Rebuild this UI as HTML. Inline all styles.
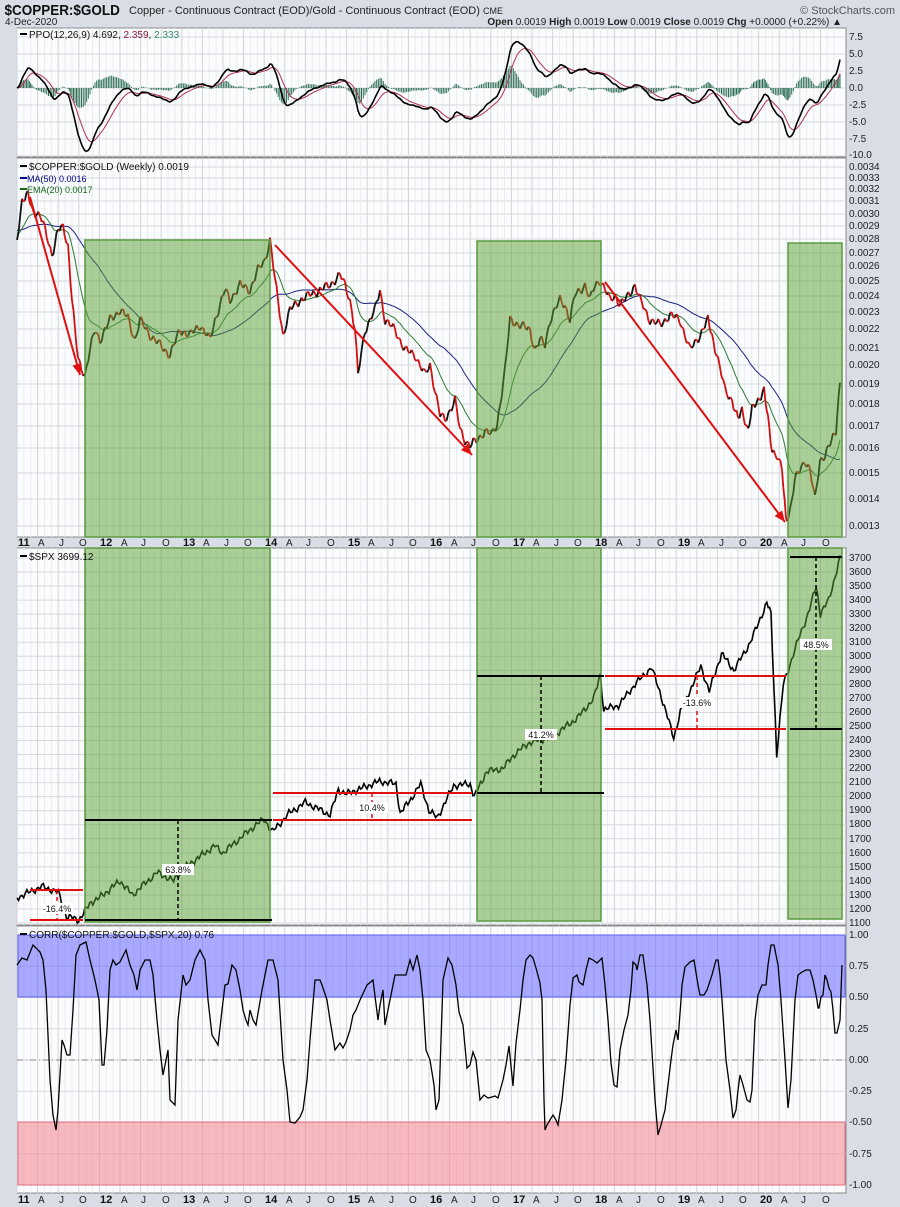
<!DOCTYPE html>
<html><head><meta charset="utf-8"><style>
html,body{margin:0;padding:0;background:#d9dee6;}
svg{display:block;font-family:"Liberation Sans",sans-serif;}
.ax{font-size:10px;fill:#222;}
.dt{font-size:10px;fill:#222;}
.yr{font-size:11px;font-weight:bold;fill:#111;}
</style></head><body>
<svg id="s" width="900" height="1207" viewBox="0 0 900 1207" xmlns="http://www.w3.org/2000/svg">
<rect x="0" y="0" width="900" height="1207" fill="#d9dee6"/>
<text x="5" y="15" style="font-size:15px;font-weight:bold" fill="#111" transform="scale(0.9,1)">$COPPER:$GOLD</text>
<text x="129" y="14" style="font-size:11px" fill="#222">Copper - Continuous Contract (EOD)/Gold - Continuous Contract (EOD) <tspan font-size="9">CME</tspan></text>
<text x="895" y="14" text-anchor="end" style="font-size:11px" fill="#555">© StockCharts.com</text>
<text x="5" y="25" style="font-size:10px" fill="#222">4-Dec-2020</text>
<text x="842" y="25" text-anchor="end" style="font-size:10px" fill="#222"><tspan font-weight="bold">Open</tspan> 0.0019 <tspan font-weight="bold">High</tspan> 0.0019 <tspan font-weight="bold">Low</tspan> 0.0019 <tspan font-weight="bold">Close</tspan> 0.0019 <tspan font-weight="bold">Chg</tspan> +0.0000 (+0.22%) ▲</text>

<rect x="17" y="28" width="829" height="129" fill="#fbfcfe" stroke="#888"/>
<rect x="17" y="158" width="829" height="379" fill="#fbfcfe" stroke="#888"/>
<rect x="17" y="548" width="829" height="377" fill="#fbfcfe" stroke="#888"/>
<rect x="17" y="926" width="829" height="267" fill="#fbfcfe" stroke="#888"/>
<g id="grid"></g>
<g id="series"></g>

<g class="ax">
<text x="849" y="40">7.5</text><text x="849" y="57">5.0</text><text x="849" y="74">2.5</text><text x="849" y="91">0.0</text><text x="849" y="108">-2.5</text><text x="849" y="125">-5.0</text><text x="849" y="142">-7.5</text><text x="849" y="158">-10.0</text>
<text x="849" y="170">0.0034</text><text x="849" y="181">0.0033</text><text x="849" y="192">0.0032</text><text x="849" y="204">0.0031</text><text x="849" y="217">0.0030</text><text x="849" y="229">0.0029</text><text x="849" y="242">0.0028</text><text x="849" y="256">0.0027</text><text x="849" y="269">0.0026</text><text x="849" y="284">0.0025</text><text x="849" y="299">0.0024</text><text x="849" y="315">0.0023</text><text x="849" y="332">0.0022</text><text x="849" y="351">0.0021</text><text x="849" y="368">0.0020</text><text x="849" y="387">0.0019</text><text x="849" y="407">0.0018</text><text x="849" y="429">0.0017</text><text x="849" y="451">0.0016</text><text x="849" y="476">0.0015</text><text x="849" y="502">0.0014</text><text x="849" y="529">0.0013</text>
<text x="849" y="561">3700</text><text x="849" y="575">3600</text><text x="849" y="589">3500</text><text x="849" y="603">3400</text><text x="849" y="617">3300</text><text x="849" y="631">3200</text><text x="849" y="645">3100</text><text x="849" y="659">3000</text><text x="849" y="673">2900</text><text x="849" y="687">2800</text><text x="849" y="701">2700</text><text x="849" y="715">2600</text><text x="849" y="729">2500</text><text x="849" y="743">2400</text><text x="849" y="757">2300</text><text x="849" y="771">2200</text><text x="849" y="785">2100</text><text x="849" y="799">2000</text><text x="849" y="813">1900</text><text x="849" y="827">1800</text><text x="849" y="842">1700</text><text x="849" y="856">1600</text><text x="849" y="870">1500</text><text x="849" y="884">1400</text><text x="849" y="898">1300</text><text x="849" y="912">1200</text><text x="849" y="926">1100</text>
<text x="849" y="938">1.00</text><text x="849" y="969">0.75</text><text x="849" y="1000">0.50</text><text x="849" y="1032">0.25</text><text x="849" y="1063">0.00</text><text x="849" y="1094">-0.25</text><text x="849" y="1125">-0.50</text><text x="849" y="1157">-0.75</text><text x="849" y="1188">-1.00</text>
</g>

<g class="dt">
<text class="yr" x="18" y="546">11</text><text x="38" y="546">A</text><text x="59" y="546">J</text><text x="79" y="546">O</text>
<text class="yr" x="100" y="546">12</text><text x="121" y="546">A</text><text x="141" y="546">J</text><text x="162" y="546">O</text>
<text class="yr" x="183" y="546">13</text><text x="203" y="546">A</text><text x="224" y="546">J</text><text x="244" y="546">O</text>
<text class="yr" x="265" y="546">14</text><text x="286" y="546">A</text><text x="306" y="546">J</text><text x="327" y="546">O</text>
<text class="yr" x="348" y="546">15</text><text x="368" y="546">A</text><text x="389" y="546">J</text><text x="409" y="546">O</text>
<text class="yr" x="430" y="546">16</text><text x="451" y="546">A</text><text x="471" y="546">J</text><text x="492" y="546">O</text>
<text class="yr" x="513" y="546">17</text><text x="533" y="546">A</text><text x="554" y="546">J</text><text x="574" y="546">O</text>
<text class="yr" x="595" y="546">18</text><text x="616" y="546">A</text><text x="636" y="546">J</text><text x="657" y="546">O</text>
<text class="yr" x="678" y="546">19</text><text x="698" y="546">A</text><text x="719" y="546">J</text><text x="739" y="546">O</text>
<text class="yr" x="760" y="546">20</text><text x="781" y="546">A</text><text x="801" y="546">J</text><text x="822" y="546">O</text>
</g>
<g class="dt" transform="translate(0,657)">
<text class="yr" x="18" y="546">11</text><text x="38" y="546">A</text><text x="59" y="546">J</text><text x="79" y="546">O</text>
<text class="yr" x="100" y="546">12</text><text x="121" y="546">A</text><text x="141" y="546">J</text><text x="162" y="546">O</text>
<text class="yr" x="183" y="546">13</text><text x="203" y="546">A</text><text x="224" y="546">J</text><text x="244" y="546">O</text>
<text class="yr" x="265" y="546">14</text><text x="286" y="546">A</text><text x="306" y="546">J</text><text x="327" y="546">O</text>
<text class="yr" x="348" y="546">15</text><text x="368" y="546">A</text><text x="389" y="546">J</text><text x="409" y="546">O</text>
<text class="yr" x="430" y="546">16</text><text x="451" y="546">A</text><text x="471" y="546">J</text><text x="492" y="546">O</text>
<text class="yr" x="513" y="546">17</text><text x="533" y="546">A</text><text x="554" y="546">J</text><text x="574" y="546">O</text>
<text class="yr" x="595" y="546">18</text><text x="616" y="546">A</text><text x="636" y="546">J</text><text x="657" y="546">O</text>
<text class="yr" x="678" y="546">19</text><text x="698" y="546">A</text><text x="719" y="546">J</text><text x="739" y="546">O</text>
<text class="yr" x="760" y="546">20</text><text x="781" y="546">A</text><text x="801" y="546">J</text><text x="822" y="546">O</text>
</g>

<g id="over"></g>

<g style="font-size:10px">
<rect x="20" y="33" width="7" height="2" fill="#000"/>
<text x="29" y="38" fill="#111">PPO(12,26,9) 4.692, <tspan fill="#8b1a3a">2.359</tspan>, <tspan fill="#3a8a6a">2.333</tspan></text>
<rect x="20" y="165" width="7" height="2" fill="#000"/>
<text x="29" y="170" fill="#111">$COPPER:$GOLD (Weekly) 0.0019</text>
<rect x="20" y="177" width="7" height="2" fill="#000080"/>
<text x="27" y="182" fill="#000080" font-size="9">MA(50) 0.0016</text>
<rect x="20" y="188" width="7" height="2" fill="#1a6a1a"/>
<text x="27" y="193" fill="#1a6a1a" font-size="9">EMA(20) 0.0017</text>
<rect x="20" y="555" width="7" height="2" fill="#000"/>
<text x="29" y="560" fill="#111">$SPX 3699.12</text>
<rect x="20" y="933" width="7" height="2" fill="#000"/>
<text x="29" y="938" fill="#111">CORR($COPPER:$GOLD,$SPX,20) 0.76</text>
</g>
<g style="font-size:9px" fill="#111" text-anchor="middle">
<rect x="41" y="903" width="32" height="11" fill="#fff"/><text x="57" y="912">-16.4%</text>
<rect x="162" y="864" width="32" height="11" fill="#fff"/><text x="178" y="873">63.8%</text>
<rect x="356" y="802" width="32" height="11" fill="#fff"/><text x="372" y="811">10.4%</text>
<rect x="525" y="729" width="32" height="11" fill="#fff"/><text x="541" y="738">41.2%</text>
<rect x="680" y="697" width="34" height="11" fill="#fff"/><text x="697" y="706">-13.6%</text>
<rect x="800" y="639" width="32" height="11" fill="#fff"/><text x="816" y="648">48.5%</text>
</g>
</svg>
<script>
(function(){
var NS="http://www.w3.org/2000/svg";
function el(p,t,a){var e=document.createElementNS(NS,t);for(var k in a)e.setAttribute(k,a[k]);p.appendChild(e);return e;}
var G=document.getElementById('grid'),S=document.getElementById('series'),O=document.getElementById('over');
var L=17,R=846;
for(var m=0;m<120;m++){var x=17+m*82.4/12;if(x>R)break;
 var c=(m%3==0)?'#cfd3da':'#e9ecf0';
 [[28,157],[158,537],[548,925],[926,1193]].forEach(function(p){el(G,'line',{x1:x,x2:x,y1:p[0],y2:p[1],stroke:c,'stroke-width':1});});}
function hl0(y){el(G,'line',{x1:L,x2:R,y1:y,y2:y,stroke:'#d6d9de','stroke-width':1});}
function hg(y0,step,n){for(var i=0;i<n;i++)hl0(y0+i*step);}
hg(37,17,8);
[167,178,189,201,214,226,239,253,266,281,296,312,329,348,365,384,404,426,448,473,499,526].forEach(hl0);
hg(558,14.04,27);hg(935,31.25,9);
el(G,'line',{x1:L,x2:R,y1:1060,y2:1060,stroke:'#888','stroke-dasharray':'6,3,1,3'});
el(G,'rect',{x:18,y:935,width:827,height:62,fill:'rgba(100,100,255,0.55)',stroke:'#6060ee'});
el(G,'rect',{x:18,y:1122,width:827,height:63,fill:'rgba(245,140,150,0.6)',stroke:'#e07080'});
function interp(pts,step){var out=[];for(var i=0;i<pts.length-1;i++){var a=pts[i],b=pts[i+1];var n=Math.max(1,Math.round((b[0]-a[0])/step));for(var j=0;j<n;j++){var t=j/n;out.push([a[0]+(b[0]-a[0])*t,a[1]+(b[1]-a[1])*t]);}}out.push(pts[pts.length-1]);return out;}
function path(pts){return pts.map(function(p,i){return (i?'L':'M')+p[0].toFixed(1)+' '+p[1].toFixed(1);}).join('');}
var kp=[[17,240],[22,200],[28,195],[32,210],[40,215],[45,230],[52,255],[58,230],[63,228],[68,245],[72,300],[78,360],[85,375],[90,350],[95,330],[100,340],[110,320],[120,310],[128,318],[135,340],[140,320],[150,335],[160,345],[170,355],[180,330],[190,335],[200,325],[210,340],[215,320],[225,290],[230,300],[240,285],[250,290],[258,270],[265,260],[270,240],[275,280],[283,335],[290,310],[300,300],[310,295],[320,290],[330,285],[340,275],[345,285],[350,300],[355,330],[358,375],[365,330],[375,310],[380,290],[385,320],[395,330],[405,350],[415,355],[425,375],[430,365],[435,390],[440,415],[445,420],[450,410],[455,400],[460,430],[465,440],[470,445],[478,440],[485,430],[492,435],[497,425],[505,370],[510,320],[520,325],[530,330],[535,350],[540,340],[545,345],[550,320],[555,310],[560,300],[565,305],[570,320],[575,295],[580,290],[585,285],[590,300],[595,285],[600,280],[605,290],[610,300],[615,295],[620,305],[625,300],[635,285],[640,300],[650,320],[660,325],[670,315],[680,320],[690,350],[700,335],[708,320],[712,335],[718,360],[725,390],[732,400],[738,420],[742,410],[748,430],[752,410],[758,400],[764,390],[768,420],[772,450],[777,455],[782,470],[786,520],[790,510],[795,480],[800,470],[805,460],[810,470],[815,500],[820,460],[825,455],[830,445],[836,430],[840,380]];
var P=interp(kp,1.6);
P.forEach(function(p,i){p[1]+=3.5*Math.sin(i*1.7)+2*Math.sin(i*0.63);});
var pre=[];for(var i=0;i<50;i++)pre.push(225+i*0.2);
var ys=pre.concat(P.map(function(p){return p[1];}));
var ma=[],ema=[],e=ys[0];
for(var i=0;i<ys.length;i++){e=e+(ys[i]-e)*2/21;if(i>=50){var s=0;for(var j=i-49;j<=i;j++)s+=ys[j];ma.push([P[i-50][0],s/50]);ema.push([P[i-50][0],e]);}}
el(S,'path',{d:path(ma),fill:'none',stroke:'#1a237e','stroke-width':1});
el(S,'path',{d:path(ema),fill:'none',stroke:'#2e7d32','stroke-width':1});
for(var i=1;i<P.length;i++){var up=P[i][1]<P[i-1][1]-1.5;el(S,'line',{x1:P[i-1][0],y1:P[i-1][1],x2:P[i][0],y2:P[i][1],stroke:up?'#111':'#d01010','stroke-width':1.8});}
var v=P.map(function(p){return 0.0034*Math.exp(-(p[1]-167)/373.5);});
var e12=v[0],e26=v[0],sg=0,pp=[],sgl=[];
for(var i=0;i<v.length;i++){e12+=(v[i]-e12)*2/13;e26+=(v[i]-e26)*2/27;var q=(e12-e26)/e26*100;sg+=(q-sg)*0.2;pp.push(q);sgl.push(sg);}
var mx=0;pp.forEach(function(q){mx=Math.max(mx,Math.abs(q));});var f=9.3/mx;
for(var i=0;i<P.length;i++){var h=(pp[i]-sgl[i])*f*6.8;el(S,'line',{x1:P[i][0],x2:P[i][0],y1:88,y2:88-h,stroke:'#2f6f55','stroke-width':1});}
el(S,'path',{d:path(P.map(function(p,i){return [p[0],88-sgl[i]*f*6.8];})),fill:'none',stroke:'#b03050','stroke-width':1});
el(S,'path',{d:path(P.map(function(p,i){return [p[0],88-pp[i]*f*6.8];})),fill:'none',stroke:'#000','stroke-width':1.6});
var sp=[[2011,1280],[2011.3,1360],[2011.5,1320],[2011.6,1150],[2011.75,1120],[2011.9,1250],[2012,1280],[2012.25,1400],[2012.4,1300],[2012.7,1460],[2012.9,1400],[2013,1480],[2013.4,1650],[2013.5,1600],[2013.7,1700],[2013.9,1800],[2014,1840],[2014.1,1750],[2014.3,1880],[2014.5,1960],[2014.8,1870],[2014.9,2050],[2015,2020],[2015.4,2110],[2015.6,2090],[2015.65,1880],[2015.8,2000],[2015.9,2090],[2016,1900],[2016.1,1850],[2016.3,2080],[2016.5,2090],[2016.55,2000],[2016.7,2180],[2016.9,2200],[2017,2280],[2017.2,2380],[2017.5,2430],[2017.8,2560],[2018,2700],[2018.08,2870],[2018.12,2620],[2018.3,2650],[2018.5,2800],[2018.7,2920],[2018.8,2750],[2018.97,2420],[2019.05,2600],[2019.3,2930],[2019.4,2750],[2019.55,3020],[2019.7,2900],[2019.9,3100],[2020.1,3380],[2020.15,3300],[2020.22,2300],[2020.3,2800],[2020.5,3150],[2020.6,3300],[2020.7,3500],[2020.75,3300],[2020.85,3400],[2020.99,3700]].map(function(a){return [17+(a[0]-2011)*82.4,558+(3700-a[1])*0.1404];});
var SP=interp(sp,1.6);SP.forEach(function(p,i){p[1]+=2.5*Math.sin(i*1.9)+1.5*Math.sin(i*0.7);});
el(S,'path',{d:path(SP),fill:'none',stroke:'#000','stroke-width':1.6});
var C=[[17,965],[22,958],[27,960],[33,945],[40,952],[43,960],[46,990],[50,1080],[53,1115],[56,1130],[58,1110],[62,1040],[64,1045],[67,1055],[70,1055],[73,1010],[76,955],[80,945],[86,942],[90,960],[95,980],[99,1000],[102,1065],[104,1065],[107,1030],[110,970],[113,960],[116,965],[120,962],[126,950],[130,965],[134,975],[137,990],[140,970],[145,960],[150,960],[153,975],[157,1020],[160,1050],[163,1075],[168,1050],[170,1100],[175,1105],[178,1020],[183,975],[186,985],[190,980],[195,960],[200,950],[205,960],[208,1000],[212,1035],[215,1040],[218,1045],[222,1010],[225,985],[228,984],[232,965],[236,970],[240,990],[243,1010],[246,1020],[248,1025],[250,1010],[253,1020],[256,1025],[262,990],[268,960],[273,960],[278,980],[283,1060],[287,1090],[290,1122],[295,1123],[300,1117],[303,1110],[307,1080],[310,1040],[315,980],[320,980],[322,985],[327,1000],[330,1020],[335,1050],[340,1043],[343,1048],[346,1042],[350,1030],[353,1015],[356,1010],[360,1000],[367,985],[373,980],[378,1020],[380,1005],[383,990],[385,1025],[390,1000],[395,975],[400,975],[406,975],[410,960],[413,970],[417,955],[420,970],[423,1000],[426,1050],[430,1060],[434,1085],[436,1110],[439,1100],[443,980],[448,958],[452,965],[456,985],[459,1012],[463,1025],[467,1068],[470,1065],[473,1052],[476,1060],[480,1100],[484,1095],[488,1098],[492,1097],[495,1096],[498,1098],[503,1080],[506,1065],[509,1046],[513,1086],[516,1043],[520,1010],[523,980],[526,960],[530,955],[533,958],[536,968],[540,983],[542,1000],[544,1100],[545,1130],[547,1125],[550,1120],[553,1115],[556,1120],[558,1125],[562,1100],[566,1060],[570,1005],[573,978],[577,975],[579,982],[583,985],[586,970],[589,958],[593,960],[597,963],[602,958],[605,985],[608,1020],[611,1063],[614,1085],[617,1087],[620,1050],[624,1030],[628,1015],[631,990],[633,962],[636,965],[637,970],[640,955],[643,955],[647,985],[650,1020],[655,1100],[658,1135],[661,1125],[665,1110],[668,1085],[671,1060],[673,1045],[676,1030],[678,1040],[681,1000],[682,985],[685,967],[690,962],[694,960],[698,985],[700,995],[704,995],[707,990],[712,975],[716,960],[718,960],[720,975],[722,1000],[726,1060],[730,1090],[733,1118],[736,1110],[738,1090],[740,1075],[743,1085],[747,1100],[750,1102],[752,1090],[755,1020],[758,995],[762,985],[766,985],[768,965],[771,945],[774,945],[778,965],[781,1000],[785,1060],[788,1108],[791,1080],[795,1000],[798,975],[802,972],[806,970],[810,970],[813,980],[815,990],[817,1000],[818,1008],[819,1008],[821,997],[823,995],[825,975],[827,980],[829,988],[831,992],[833,1010],[835,1033],[837,1033],[840,1020],[842,965]];
el(S,'path',{d:path(C),fill:'none',stroke:'#000','stroke-width':1.3});
[[85,240,185,297,380],[477,241,124,296,379],[788,243,54,294,377]].forEach(function(r){
 el(O,'rect',{x:r[0],y:r[1],width:r[2],height:r[3],fill:'rgba(90,160,50,0.5)',stroke:'#5a9a40','stroke-width':1.5});
 el(O,'rect',{x:r[0],y:548,width:r[2],height:r[4]-6,fill:'rgba(90,160,50,0.5)',stroke:'#5a9a40','stroke-width':1.5});});
function arrow(x1,y1,x2,y2){el(O,'line',{x1:x1,y1:y1,x2:x2,y2:y2,stroke:'#e01010','stroke-width':2});var a=Math.atan2(y2-y1,x2-x1),l=12,w=0.4;el(O,'polygon',{points:x2+','+y2+' '+(x2-l*Math.cos(a-w))+','+(y2-l*Math.sin(a-w))+' '+(x2-l*Math.cos(a+w))+','+(y2-l*Math.sin(a+w)),fill:'#e01010'});}
arrow(30,197,80,375);arrow(275,245,472,455);arrow(605,282,785,522);
function hl(x1,x2,y,c){el(O,'line',{x1:x1,x2:x2,y1:y,y2:y,stroke:c,'stroke-width':2});}
function vl(x,y1,y2,c){el(O,'line',{x1:x,x2:x,y1:y1,y2:y2,stroke:c,'stroke-width':1.5,'stroke-dasharray':'4,3'});}
hl(30,83,890,'#e01010');hl(30,83,920,'#e01010');vl(57,890,920,'#e01010');
hl(85,272,820,'#000');hl(85,272,920,'#000');vl(178,820,920,'#000');
hl(273,472,793,'#e01010');hl(273,472,820,'#e01010');vl(372,793,820,'#e01010');
hl(477,604,676,'#000');hl(477,604,793,'#000');vl(541,676,793,'#000');
hl(605,786,676,'#e01010');hl(605,786,729,'#e01010');vl(697,676,729,'#e01010');
hl(790,842,557,'#000');hl(790,842,729,'#000');vl(816,557,729,'#000');
})();
</script>
</body></html>
